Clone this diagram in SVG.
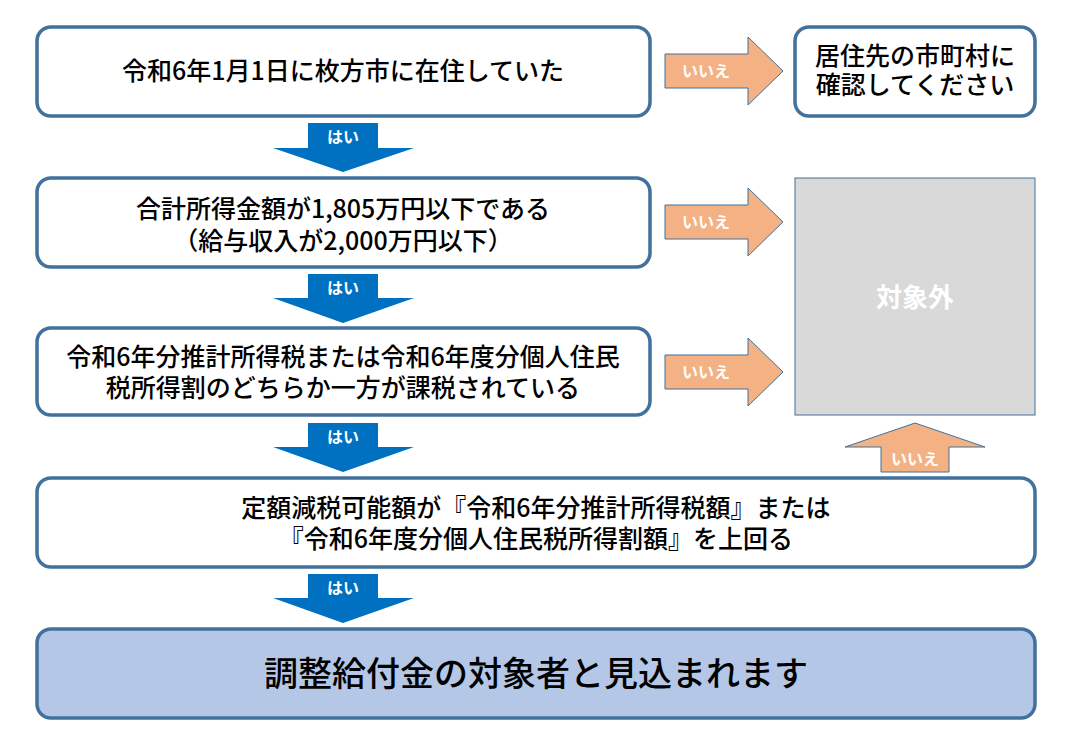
<svg xmlns="http://www.w3.org/2000/svg" width="1074" height="739" viewBox="0 0 1074 739">
<style>
.box{fill:#fff;stroke:#41719C;stroke-width:3.5}
.t{font-family:"Noto Sans CJK JP","Noto Sans",sans-serif;font-size:25px;font-weight:500;fill:#000;text-anchor:middle}
.yes{fill:#0070C0}
.no{fill:#F4B183;stroke:#41719C;stroke-width:1}
.lab{font-family:"Noto Sans CJK JP","Noto Sans",sans-serif;font-size:16px;font-weight:bold;fill:#fff;text-anchor:middle}
</style>
<rect width="1074" height="739" fill="#fff"/>
<g id="connectors">
<g id="yes1"><polygon class="yes" points="308,123 378,123 378,148 414,148 343,172 273,148 308,148"/><text class="lab" x="343" y="143">はい</text></g>
<g id="yes2"><polygon class="yes" points="308,274 378,274 378,298 414,298 343,323 273,298 308,298"/><text class="lab" x="343" y="294">はい</text></g>
<g id="yes3"><polygon class="yes" points="308,423 378,423 378,447 414,447 343,472 273,447 308,447"/><text class="lab" x="343" y="443">はい</text></g>
<g id="yes4"><polygon class="yes" points="308,574 378,574 378,598 414,598 343,623 273,598 308,598"/><text class="lab" x="343" y="594">はい</text></g>
<g id="no1"><polygon class="no" points="665,54 748,54 748,37 783,71 748,105 748,88 665,88"/><text class="lab" x="706" y="77">いいえ</text></g>
<g id="no2"><polygon class="no" points="665,205 748,205 748,188 783,222 748,256 748,239 665,239"/><text class="lab" x="706" y="228">いいえ</text></g>
<g id="no3"><polygon class="no" points="665,355 748,355 748,338 783,372 748,406 748,389 665,389"/><text class="lab" x="706" y="378">いいえ</text></g>
<g id="no4"><polygon class="no" points="881,472 949,472 949,447 985,447 915,423 845,447 881,447"/><text class="lab" x="915" y="465">いいえ</text></g>
</g>
<g id="n1"><rect class="box" x="37" y="27" width="613" height="89" rx="14"/><text class="t" x="343" y="80">令和6年1月1日に枚方市に在住していた</text></g>
<g id="n2"><rect class="box" x="37" y="178" width="613" height="89" rx="14"/><text class="t" x="343" y="218">合計所得金額が1,805万円以下である</text><text class="t" x="343" y="250">（給与収入が2,000万円以下）</text></g>
<g id="n3"><rect class="box" x="37" y="328" width="613" height="87" rx="14"/><text class="t" x="343" y="366">令和6年分推計所得税または令和6年度分個人住民</text><text class="t" x="343" y="397">税所得割のどちらか一方が課税されている</text></g>
<g id="n4"><rect class="box" x="37" y="478" width="998" height="89" rx="14"/><text class="t" x="536" y="517">定額減税可能額が『令和6年分推計所得税額』または</text><text class="t" x="536" y="548">『令和6年度分個人住民税所得割額』を上回る</text></g>
<g id="n5"><rect class="box" x="37" y="629" width="998" height="89" rx="14" style="fill:#B4C7E7"/><text class="t" x="536" y="686" style="font-size:34px">調整給付金の対象者と見込まれます</text></g>
<g id="r1"><rect class="box" x="795" y="27" width="240" height="89" rx="14"/><text class="t" x="915" y="65">居住先の市町村に</text><text class="t" x="915" y="94">確認してください</text></g>
<g id="r2"><rect x="795" y="178" width="240" height="237" fill="#D9D9D9" stroke="#41719C" stroke-width="1"/><text class="t" x="915" y="307" style="font-size:26px;font-weight:bold;fill:#fff">対象外</text></g>
</svg>
